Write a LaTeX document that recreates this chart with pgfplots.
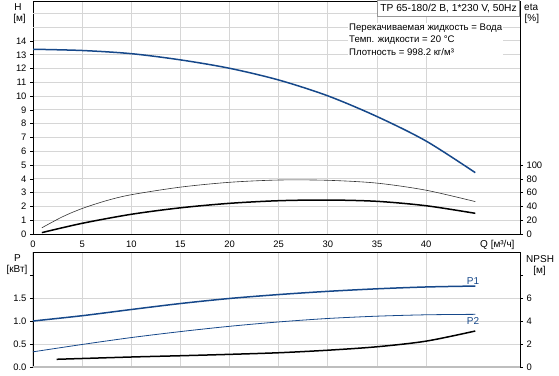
\documentclass[border=0pt]{standalone}
\usepackage{fontspec}
\setmainfont{Liberation Sans}
\usepackage{pgfplots}
\pgfplotsset{compat=1.18}
\definecolor{pblue}{RGB}{22,72,138}
\definecolor{gridc}{RGB}{214,214,214}
\definecolor{boxc}{RGB}{150,150,150}
\begin{document}
\fontsize{10}{12}\selectfont
\begin{tikzpicture}
\path[use as bounding box] (0pt,0pt) rectangle (559pt,-375pt);
\pgfplotsset{
  common/.style={
    scale only axis, width=487pt, xmin=0, xmax=49.55,
    /pgf/number format/assume math mode=true,
    tick label style={font=\fontsize{9.4}{10}\selectfont},
    tick align=outside, major tick length=3pt,
    axis line style={black, line width=0.8pt},
    every tick/.style={black, line width=0.6pt},
    grid style={gridc, line width=1pt},
  }
}
% ---------------- top: H ----------------
\begin{axis}[common, at={(33pt,-234pt)}, anchor=south west, height=233pt,
  ymin=0, ymax=16.9, ytick={0,...,14},
  extra y ticks={15,16}, extra y tick labels={},
  extra y tick style={major tick length=0pt},
  xtick={0,5,...,40}, xmajorgrids, ymajorgrids,
  ytick pos=left, xtick pos=bottom, xtick style={draw=none}]
\addplot[pblue, line width=1.5pt, smooth] coordinates {
 (0,13.4) (5,13.31) (10,13.08) (15,12.63) (20,12.02) (25,11.17) (30,10.02) (35,8.52) (40,6.74) (45,4.45)};
\end{axis}
% ---------------- top: eta ----------------
\begin{axis}[common, at={(33pt,-234pt)}, anchor=south west, height=233pt,
  ymin=0, ymax=338, ytick={0,20,...,100},
  axis y line*=right, axis x line=none]
\addplot[black!80, line width=0.6pt, smooth] coordinates {
 (0.9,9) (3,25) (5,37) (7.5,48.5) (10,57) (15,68) (20,75) (25,78.3) (30,77.9) (35,73.8) (40,63.5) (45,47)};
\addplot[black, line width=1.5pt, smooth] coordinates {
 (0.9,2) (5,15.5) (10,28.6) (15,38) (20,44.5) (25,48.3) (30,49.3) (35,47.4) (40,41) (45,30)};
\end{axis}
% ---------------- bottom: P ----------------
\begin{axis}[common, at={(33pt,-367pt)}, anchor=south west, height=115pt,
  ymin=0, ymax=2.5, ytick={0,0.5,1,1.5}, yticklabels={0.0,0.5,1.0,1.5},
  extra y ticks={2}, extra y tick labels={}, extra y tick style={grid=none},
  xtick={0,5,...,40}, xticklabels={}, xmajorgrids, ymajorgrids,
  ytick pos=left, xtick style={draw=none}]
\addplot[pblue, line width=1.5pt, smooth] coordinates {
 (0,1.0) (5,1.115) (10,1.25) (15,1.38) (20,1.49) (25,1.575) (30,1.645) (35,1.70) (40,1.74) (45,1.76)};
\addplot[pblue, line width=0.8pt, smooth] coordinates {
 (0,0.33) (5,0.49) (10,0.64) (15,0.77) (20,0.885) (25,0.98) (30,1.055) (35,1.105) (40,1.135) (45,1.145)};
\end{axis}
% ---------------- bottom: NPSH ----------------
\begin{axis}[common, at={(33pt,-367pt)}, anchor=south west, height=115pt,
  ymin=0, ymax=10, ytick={0,2,4,6}, extra y ticks={8}, extra y tick labels={},
  axis y line*=right, axis x line=none]
\addplot[black, line width=1.5pt, smooth] coordinates {
 (2.4,0.67) (10,0.87) (15,0.98) (20,1.1) (25,1.24) (30,1.46) (35,1.76) (40,2.25) (45,3.13)};
\end{axis}
\draw[color={rgb,255:red,190;green,190;blue,190}, line width=2pt] (33pt,-367pt) -- (520pt,-367pt);
% labels
\node at (18pt,-7pt) {H};
\node at (19.5pt,-19pt) {[м]};
\node[anchor=west, inner sep=0pt] at (524pt,-7pt) {eta};
\node[anchor=west, inner sep=0pt] at (524.5pt,-19pt) {[\%]};
\node at (17.5pt,-258pt) {P};
\node at (17pt,-270pt) {[кВт]};
\node[anchor=west, inner sep=0pt] at (526pt,-259pt) {NPSH};
\node at (539.5pt,-271pt) {[м]};
\node[anchor=west, inner sep=0pt] at (480pt,-245pt) {Q [м³/ч]};
\node[text=pblue] at (473pt,-281pt) {P1};
\node[text=pblue] at (473pt,-321.5pt) {P2};
\node[draw=boxc, fill=white, anchor=north east, minimum height=16pt, inner xsep=3pt, line width=0.6pt, font=\fontsize{10.2}{12}\selectfont] at (520pt,0pt) {TP 65-180/2 B, 1*230 V, 50Hz};
\node[fill=white, anchor=north west, align=left, inner sep=1pt, font=\fontsize{9.6}{12.5}\selectfont] at (348pt,-22.5pt) {Перекачиваемая жидкость = Вода\\Темп. жидкости = 20 °C\\Плотность = 998.2 кг/м³};
\end{tikzpicture}
\end{document}
